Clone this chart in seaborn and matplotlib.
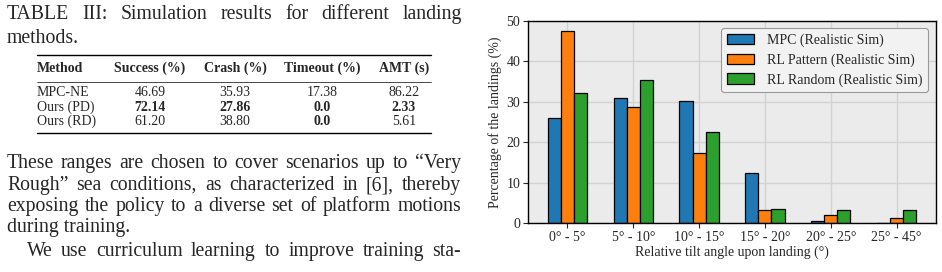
import numpy as np
import pandas as pd
import matplotlib
matplotlib.use('Agg')
import matplotlib.pyplot as plt
import seaborn as sns

# chart data
categories = ['0° - 5°', '5° - 10°', '10° - 15°', '15° - 20°', '20° - 25°', '25° - 45°']
mpc = [26.1, 30.9, 30.1, 12.5, 0.4, 0.0]
rl_pattern = [47.5, 28.6, 17.3, 3.1, 2.0, 1.2]
rl_random = [32.1, 35.3, 22.5, 3.4, 3.2, 3.2]
series_names = ['MPC (Realistic Sim)', 'RL Pattern (Realistic Sim)', 'RL Random (Realistic Sim)']

# table data
table_header = ['Method', 'Success (%)', 'Crash (%)', 'Timeout (%)', 'AMT (s)']
table_methods = ['MPC-NE', 'Ours (PD)', 'Ours (RD)']
success = ['46.69', '72.14', '61.20']
crash = ['35.93', '27.86', '38.80']
timeout = ['17.38', '0.0', '0.0']
amt = ['86.22', '2.33', '5.61']
bold_cells = {(1, 1), (1, 2), (1, 3), (1, 4), (2, 3)}

caption_lines = ['TABLE III: Simulation results for different landing', 'methods.']
body_lines = ['These ranges are chosen to cover scenarios up to \u201cVery',
              'Rough\u201d sea conditions, as characterized in [6], thereby',
              'exposing the policy to a diverse set of platform motions',
              'during training.',
              'We use curriculum learning to improve training sta-']

sns.set_style('white')
plt.rcParams['font.family'] = ['Liberation Serif', 'DejaVu Serif']
plt.rcParams['mathtext.fontset'] = 'stix'

W, H = 942, 272
fig = plt.figure(figsize=(W / 100, H / 100), dpi=100)
renderer = fig.canvas.get_renderer()


def px(x, y):
    return x / W, 1 - y / H


def justify(line, x0, x1, y, size, justified=True):
    words = line.split(' ')
    if not justified:
        fig.text(*px(x0, y), line, fontsize=size, va='baseline', ha='left')
        return
    texts = [fig.text(*px(0, y), w, fontsize=size, va='baseline', ha='left') for w in words]
    widths = [t.get_window_extent(renderer).width for t in texts]
    gap = (x1 - x0 - sum(widths)) / max(len(words) - 1, 1)
    x = x0
    for t, w in zip(texts, widths):
        t.set_position(px(x, y))
        x += w + gap


# caption + body text on the left
justify(caption_lines[0], 7, 462, 19, 14.2)
justify(caption_lines[1], 7, 462, 43, 14.2, justified=False)
body_base = [168, 190, 211, 232, 256]
for i, line in enumerate(body_lines):
    if i == 3:
        justify(line, 7, 461, body_base[i], 14.2, justified=False)
    elif i == 4:
        justify(line, 27, 461, body_base[i], 14.2)
    else:
        justify(line, 7, 461, body_base[i], 14.2)

# table
tfs = 10
fig.add_artist(plt.Line2D([37 / W, 431 / W], [1 - 55 / H] * 2, color='black', lw=1.0))
fig.add_artist(plt.Line2D([37 / W, 431 / W], [1 - 82 / H] * 2, color='black', lw=0.5))
fig.add_artist(plt.Line2D([37 / W, 431 / W], [1 - 133 / H] * 2, color='black', lw=1.0))
col_x = [37, 150, 235, 322, 404]
fig.text(*px(col_x[0], 72), table_header[0], fontsize=tfs, weight='bold', va='baseline', ha='left')
for j in range(1, 5):
    fig.text(*px(col_x[j], 72), table_header[j], fontsize=tfs, weight='bold', va='baseline', ha='center')
row_base = [96, 111, 125]
for i in range(3):
    cells = [table_methods[i], success[i], crash[i], timeout[i], amt[i]]
    for j, c in enumerate(cells):
        fig.text(*px(col_x[j], row_base[i]), c, fontsize=tfs, va='baseline',
                 ha='left' if j == 0 else 'center',
                 weight='bold' if (i, j) in bold_cells else 'normal')

# bar chart
df = pd.DataFrame({
    'angle': categories * 3,
    'value': mpc + rl_pattern + rl_random,
    'method': [series_names[0]] * 6 + [series_names[1]] * 6 + [series_names[2]] * 6,
})
ax = fig.add_axes([528 / W, 1 - 223 / H, (936 - 528) / W, (223 - 21) / H])
ax.set_facecolor('#ebebeb')
sns.barplot(data=df, x='angle', y='value', hue='method', ax=ax, width=0.6,
            palette=['#1f77b4', '#ff7f0e', '#2ca02c'], edgecolor='black', linewidth=0.9,
            saturation=1)
ax.set_ylim(0, 50)
ax.set_xlim(-0.6, 5.6)
ax.set_yticks(range(0, 51, 10))
ax.set_axisbelow(True)
ax.grid(True, color='#d2d2d2', linewidth=1.0)
for s in ax.spines.values():
    s.set_color('black')
    s.set_linewidth(1.0)
ax.tick_params(axis='both', labelsize=10, length=3.5, width=0.8, direction='out', bottom=True, left=True, pad=2)
ax.set_xlabel('Relative tilt angle upon landing (°)', fontsize=10, labelpad=1)
ax.set_ylabel('Percentage of the landings (%)', fontsize=10, labelpad=3)
leg = ax.legend(loc='upper right', fontsize=10, frameon=True, fancybox=True,
                facecolor='#f2f2f2', edgecolor='#999999', framealpha=1,
                handlelength=2.0, handleheight=0.75, handletextpad=0.9,
                borderpad=0.4, labelspacing=0.45, borderaxespad=0,
                bbox_to_anchor=(0.98, 0.965))
leg.get_frame().set_linewidth(0.8)

fig.savefig('out.png', dpi=100)
